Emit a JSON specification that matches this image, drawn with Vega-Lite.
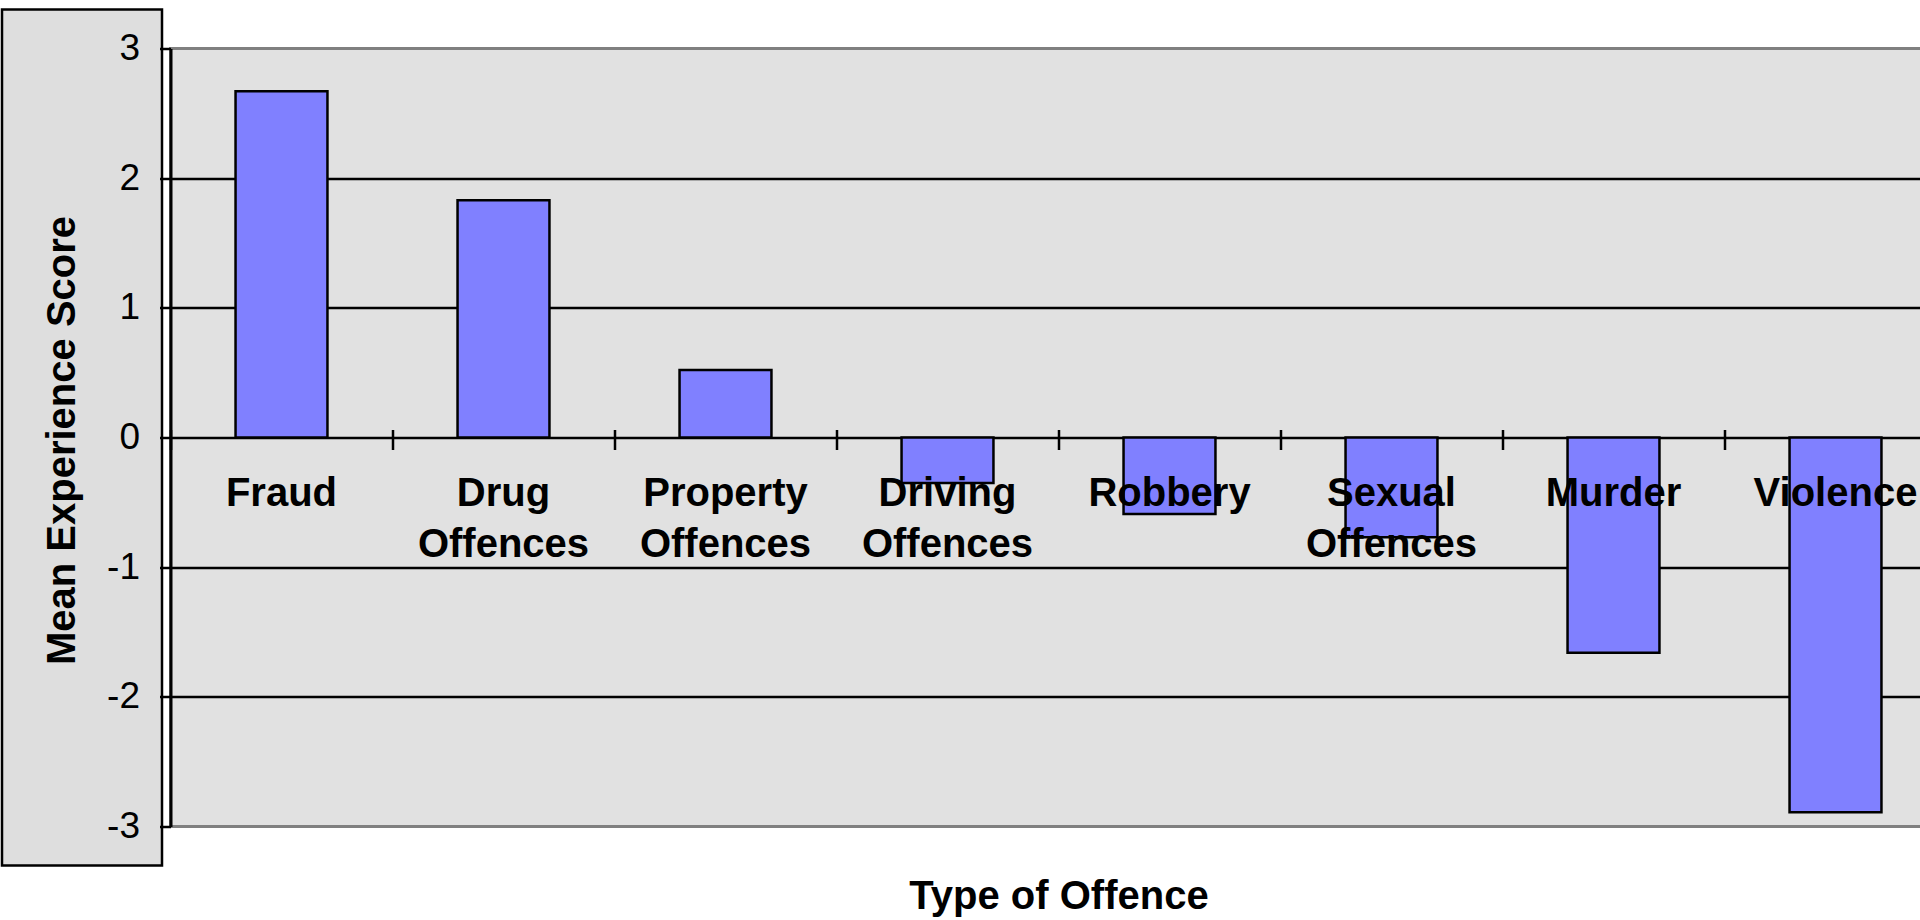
{
  "$schema": "https://vega.github.io/schema/vega-lite/v6.json",
  "padding": {"left": 0, "top": 7.5, "right": 0, "bottom": 0},
  "background": "white",
  "spacing": 8.5,
  "bounds": "flush",
  "center": true,
  "config": {"font": "Liberation Sans", "view": {"stroke": null}},
  "hconcat": [
    {
      "width": 160,
      "height": 856,
      "view": {"fill": "#dedede", "stroke": "black", "strokeWidth": 2.5},
      "data": {"values": [{"title": "Mean Experience Score"}]},
      "mark": {"type": "text", "angle": 270, "font": "Liberation Sans", "fontSize": 40, "fontWeight": "bold", "color": "black", "dy": -19, "dx": -3},
      "encoding": {"text": {"field": "title", "type": "nominal"}}
    },
    {
      "width": 1776,
      "height": 778,
      "view": {"fill": "#e1e1e1", "stroke": "#808080", "strokeWidth": 3},
      "data": {
        "values": [
          {"offence": "Fraud", "score": 2.67},
          {"offence": "Drug Offences", "score": 1.83},
          {"offence": "Property Offences", "score": 0.52},
          {"offence": "Driving Offences", "score": -0.35},
          {"offence": "Robbery", "score": -0.59},
          {"offence": "Sexual Offences", "score": -0.77},
          {"offence": "Murder", "score": -1.66},
          {"offence": "Violence", "score": -2.89}
        ]
      },
      "mark": {"type": "bar", "fill": "#8080ff", "stroke": "black", "strokeWidth": 2.5, "width": {"band": 0.414}},
      "encoding": {
        "x": {
          "field": "offence",
          "type": "nominal",
          "sort": null,
          "scale": {"paddingInner": 0, "paddingOuter": 0},
          "axis": {
            "title": "Type of Offence",
            "orient": "bottom",
            "offset": -397,
            "domain": false,
            "ticks": true,
            "tickSize": 20,
            "tickColor": "black",
            "tickWidth": 2.5,
            "bandPosition": 0,
            "labelExpr": "split(datum.label, ' ')",
            "labelFont": "Liberation Sans",
            "labelFontSize": 40,
            "labelFontWeight": "bold",
            "labelColor": "black",
            "labelPadding": 24,
            "labelLineHeight": 51,
            "labelAngle": 0,
            "labelBaseline": "top",
            "labelAlign": "center",
            "labelOverlap": false,
            "labelLimit": 0,
            "zindex": 1,
            "titleFont": "Liberation Sans",
            "titleFontSize": 40,
            "titleFontWeight": "bold",
            "titleColor": "black",
            "titleBaseline": "alphabetic",
            "titleY": 479
          }
        },
        "y": {
          "field": "score",
          "type": "quantitative",
          "scale": {"domain": [-3, 3], "nice": false},
          "axis": {
            "title": null,
            "values": [-3, -2, -1, 0, 1, 2, 3],
            "labelExpr": "'' + datum.value",
            "grid": true,
            "gridColor": "black",
            "gridWidth": 2.5,
            "gridOpacity": {"condition": {"test": "abs(datum.value) >= 3", "value": 0}, "value": 1},
            "domainColor": "black",
            "domainWidth": 3,
            "tickColor": "black",
            "tickSize": 11,
            "tickWidth": 2.5,
            "labelFont": "Liberation Sans",
            "labelFontSize": 37,
            "labelColor": "black",
            "labelPadding": 20,
            "zindex": 0
          }
        }
      }
    }
  ]
}
